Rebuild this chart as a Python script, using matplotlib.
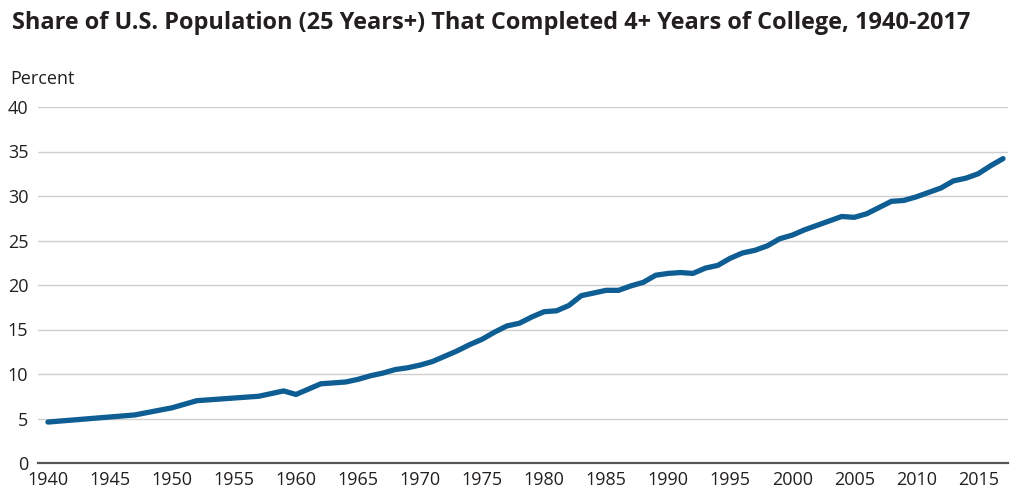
import matplotlib
matplotlib.use("Agg")
import matplotlib.pyplot as plt

# Values (percent of population 25+ with 4+ years of college)
known_years = [1940, 1947, 1950, 1952, 1957, 1959, 1960, 1962, 1964, 1965, 1966, 1967, 1968,
               1969, 1970, 1971, 1972, 1973, 1974, 1975, 1976, 1977, 1978, 1979, 1980, 1981,
               1982, 1983, 1984, 1985, 1986, 1987, 1988, 1989, 1990, 1991, 1992, 1993, 1994,
               1995, 1996, 1997, 1998, 1999, 2000, 2001, 2002, 2003, 2004, 2005, 2006, 2007,
               2008, 2009, 2010, 2011, 2012, 2013, 2014, 2015, 2016, 2017]
values = [4.6, 5.4, 6.2, 7.0, 7.5, 8.1, 7.7, 8.9, 9.1, 9.4, 9.8, 10.1, 10.5,
          10.7, 11.0, 11.4, 12.0, 12.6, 13.3, 13.9, 14.7, 15.4, 15.7, 16.4, 17.0, 17.1,
          17.7, 18.8, 19.1, 19.4, 19.4, 19.9, 20.3, 21.1, 21.3, 21.4, 21.3, 21.9, 22.2,
          23.0, 23.6, 23.9, 24.4, 25.2, 25.6, 26.2, 26.7, 27.2, 27.7, 27.6, 28.0, 28.7,
          29.4, 29.5, 29.9, 30.4, 30.9, 31.7, 32.0, 32.5, 33.4, 34.2]
x_ticks = list(range(1940, 2016, 5))
y_ticks = list(range(0, 41, 5))
title = "Share of U.S. Population (25 Years+) That Completed 4+ Years of College, 1940-2017"

W, H = 1020, 497
fig = plt.figure(figsize=(W / 100, H / 100), dpi=100)
font = "Open Sans"
plt.rcParams['font.family'] = [font, 'DejaVu Sans']
txt = "#231f20"

def fx(px):
    return px / W

def fy(py):
    return 1 - py / H

ax = fig.add_axes([fx(38), fy(463), fx(1008) - fx(38), fy(107) - fy(463)])
ax.plot(known_years, values, color="#0e5e93", lw=3.8, solid_capstyle="round",
        solid_joinstyle="round", zorder=3, clip_on=False)

ax.set_xlim(1939.2, 2017.4)
ax.set_ylim(0, 40)
ax.set_yticks(y_ticks)
ax.set_xticks(x_ticks)
ax.set_yticklabels([str(v) for v in y_ticks])
ax.set_xticklabels([str(v) for v in x_ticks])
ax.grid(axis="y", color="#cfcfcf", lw=1.0, zorder=0)
ax.grid(axis="x", visible=False)
for s in ["top", "right", "left"]:
    ax.spines[s].set_visible(False)
ax.spines["bottom"].set_color("#555555")
ax.spines["bottom"].set_linewidth(1.6)
ax.spines["bottom"].set_zorder(4)
ax.tick_params(axis="both", length=0, labelsize=13, colors=txt)
ax.tick_params(axis="y", pad=7)
ax.tick_params(axis="x", pad=6)

fig.text(fx(10), fy(84), "Percent", fontsize=13, color=txt, ha="left", va="baseline")

t = fig.text(fx(12), fy(29), title, fontsize=17, fontweight="bold", color=txt,
             ha="left", va="baseline")
fig.canvas.draw()
r = fig.canvas.get_renderer()
wpx = t.get_window_extent(r).width
t.set_fontsize(17 * 960 / wpx)

fig.savefig("out.png", dpi=100)
